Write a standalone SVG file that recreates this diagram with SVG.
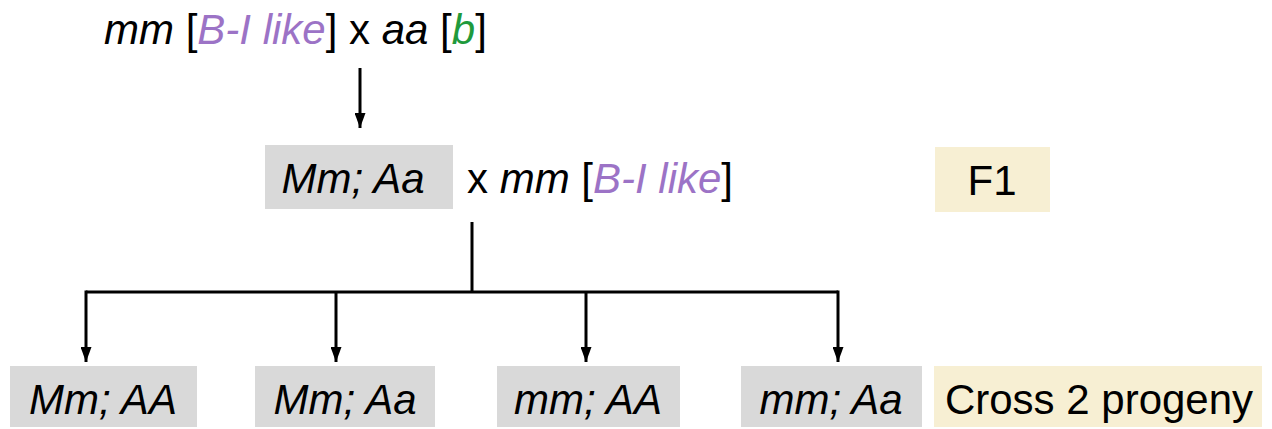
<svg xmlns="http://www.w3.org/2000/svg" width="1272" height="429" viewBox="0 0 1272 429">
<style>
text{font-family:"Liberation Sans",Arial,sans-serif;font-size:42px;fill:#000}
.i{font-style:italic}
.p{fill:#9c73c6;font-style:italic}
.g{fill:#1f9a3c;font-style:italic}
.gray{fill:#d9d9d9}
.beige{fill:#f7efd3}
.ln{stroke:#000;stroke-width:3;fill:none}
</style>
<defs>
<marker id="a" markerWidth="15" markerHeight="11" refX="15" refY="5.5" orient="auto" markerUnits="userSpaceOnUse">
<path d="M0,0 L15,5.5 L0,11 Z" fill="#000"/>
</marker>
</defs>
<g id="parents">
<text x="104" y="44"><tspan class="i">mm</tspan> [<tspan class="p">B-I like</tspan>] x <tspan class="i">aa</tspan> [<tspan class="g">b</tspan>]</text>
</g>
<g id="f1">
<rect class="gray" x="265" y="145" width="188" height="64"/>
<text class="i" x="353" y="193" text-anchor="middle">Mm; Aa</text>
</g>
<g id="f1cross">
<text x="467" y="193">x <tspan class="i">mm</tspan> [<tspan class="p">B-I like</tspan>]</text>
</g>
<g id="f1label">
<rect class="beige" x="935" y="147" width="115" height="65"/>
<text x="992" y="195" text-anchor="middle">F1</text>
</g>
<g id="p1">
<rect class="gray" x="10" y="366" width="187" height="61"/>
<text class="i" x="103" y="414" text-anchor="middle">Mm; AA</text>
</g>
<g id="p2">
<rect class="gray" x="255" y="366" width="180" height="61"/>
<text class="i" x="345" y="414" text-anchor="middle">Mm; Aa</text>
</g>
<g id="p3">
<rect class="gray" x="497" y="366" width="183" height="61"/>
<text class="i" x="588" y="414" text-anchor="middle">mm; AA</text>
</g>
<g id="p4">
<rect class="gray" x="741" y="366" width="181" height="61"/>
<text class="i" x="831" y="414" text-anchor="middle">mm; Aa</text>
</g>
<g id="progenylabel">
<rect class="beige" x="934" y="366" width="328" height="61"/>
<text x="1099" y="414" text-anchor="middle">Cross 2 progeny</text>
</g>
<g id="connectors">
<line class="ln" x1="360" y1="68" x2="360" y2="128" marker-end="url(#a)"/>
<line class="ln" x1="472" y1="222" x2="472" y2="292"/>
<polyline class="ln" points="86,292 838,292"/>
<line class="ln" x1="86" y1="290.5" x2="86" y2="362" marker-end="url(#a)"/>
<line class="ln" x1="336" y1="292" x2="336" y2="362" marker-end="url(#a)"/>
<line class="ln" x1="586" y1="292" x2="586" y2="362" marker-end="url(#a)"/>
<line class="ln" x1="838" y1="290.5" x2="838" y2="362" marker-end="url(#a)"/>
</g>
</svg>
